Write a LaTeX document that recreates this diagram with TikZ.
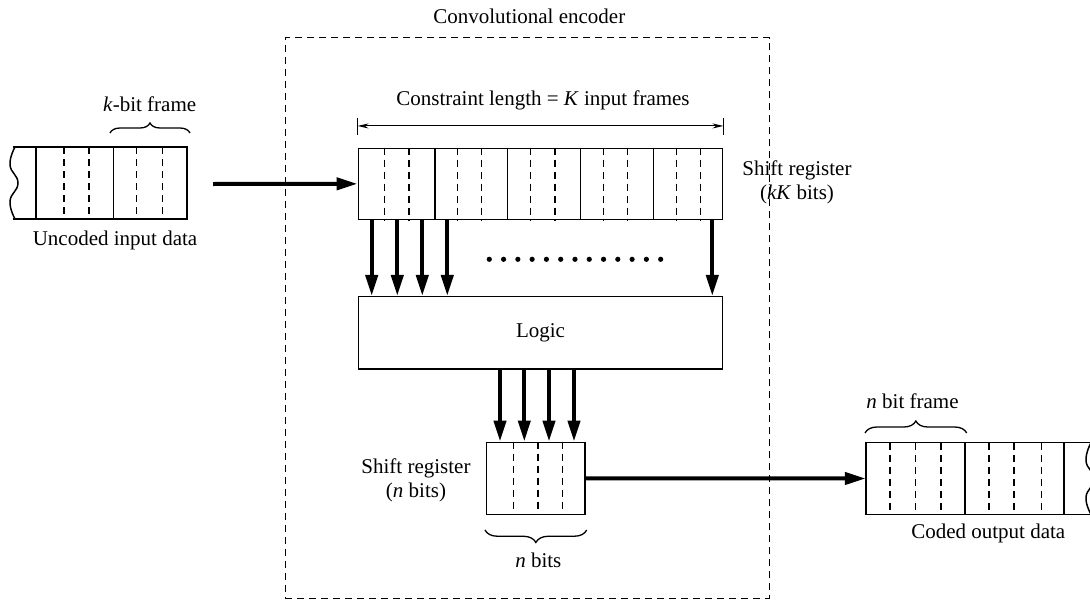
\documentclass[tikz,border=0pt]{standalone}
\usepackage{fontspec}
\setmainfont{Liberation Serif}
\usetikzlibrary{arrows.meta,decorations.pathreplacing,calc}
\begin{document}
\begin{tikzpicture}[x=1pt,y=-1pt,
  txt/.style={font=\fontsize{21}{24}\selectfont, inner sep=0pt, align=center},
  reg/.style={draw, line width=1.5pt, inner sep=0pt},
  ghost/.style={inner sep=0pt},
  div/.style={line width=1.5pt},
  ddiv/.style={line width=1.5pt, dash pattern=on 7pt off 5pt},
  bigarrow/.style={line width=4pt, -{Triangle[length=21pt,width=12pt]}},
  dim/.style={line width=1pt, {Stealth[length=11pt,width=5pt]}-{Stealth[length=11pt,width=5pt]}},
  brc/.style={decorate, decoration={brace, amplitude=#1}, line width=1.3pt},
  encbox/.style={draw, line width=1pt, dash pattern=on 7pt off 5pt, inner sep=0pt},
]
\useasboundingbox (0,0) rectangle (1090,605);

% encoder box
\node[encbox, minimum width=484.3pt, minimum height=560.3pt] (enc) at (527.15,317.85) {};
\node[txt] (enclbl) at (529.3,16.7) {Convolutional encoder};

% input register
\node[ghost, minimum width=174pt, minimum height=72pt] (inreg) at (100,183) {};
\draw[div] (13,147) -- (187,147) -- (187,219) -- (13,219);
\foreach \x in {36,113.3} \draw[div] (\x,147) -- (\x,219);
\foreach \x in {64,89,136.7,162.7} \draw[ddiv] (\x,147) -- (\x,219);
\draw[div] plot[smooth, tension=0.8] coordinates {(15,147) (10,165) (18,183) (10,201) (15,219)};
\draw[brc=10pt] (110,133) -- (190,133);
\node[txt] (klbl) at (149.7,104) {\textit{k}-bit frame};
\node[txt] (inlbl) at (115,240) {Uncoded input data};

% main shift register
\node[reg, minimum width=364.4pt, minimum height=71pt] (sr) at (540.5,183.8) {};
\foreach \x in {435,507.7,580.7,653.3} \draw[div] (\x,0 |- sr.north) -- (\x,0 |- sr.south);
\foreach \x in {384.3,409,457.7,481.7,530.7,555,603.3,627.3,676.7,700.7}
  \draw[ddiv] (\x,0 |- sr.north) -- (\x,0 |- sr.south);
\node[txt] (srlbl) at (797,182.5) {Shift register\\(\textit{kK} bits)};

% constraint length dimension
\coordinate (dimL) at ($(sr.north west)+(0,-21.6)$);
\coordinate (dimR) at ($(sr.north east)+(0,-21.6)$);
\draw[dim] (dimL) -- (dimR);
\draw[line width=1pt] ($(sr.north west)+(0,-30)$) -- ($(sr.north west)+(0,-13)$);
\draw[line width=1pt] ($(sr.north east)+(0,-30)$) -- ($(sr.north east)+(0,-13)$);
\node[txt] (cllbl) at (543,100) {Constraint length = \textit{K} input frames};

% input arrow
\coordinate (instart) at (213,184);
\draw[bigarrow] (instart) -- (sr.west);

% logic
\node[reg, minimum width=364.4pt, minimum height=72.3pt, txt] (logic) at (540.5,332.85) {Logic};
\foreach \x in {371.7,397.3,422.3,447.3,712.3}
  \draw[bigarrow] (\x,0 |- sr.south) -- (\x,0 |- logic.north);
\foreach \i in {0,...,12} \fill ({489.3+\i*14.28},259.3) circle (2.6pt);

% n-bit shift register
\node[reg, minimum width=98.3pt, minimum height=72pt] (nr) at (535.85,478.3) {};
\foreach \x in {513.3,538,562.3} \draw[ddiv] (\x,0 |- nr.north) -- (\x,0 |- nr.south);
\foreach \x in {500,524.3,549,574}
  \draw[bigarrow] (\x,0 |- logic.south) -- (\x,0 |- nr.north);
\node[txt] (nrlbl) at (416,480) {Shift register\\(\textit{n} bits)};
\draw[brc=12.5pt] (586.7,530) -- (485,530);
\node[txt] (nbits) at (538.3,560) {\textit{n} bits};

% output register
\node[ghost, minimum width=224pt, minimum height=71.6pt] (outreg) at (978,478.5) {};
\draw[div] (1090,442.7) -- (866,442.7) -- (866,514.3) -- (1090,514.3);
\foreach \x in {965,1064} \draw[div] (\x,442.7) -- (\x,514.3);
\foreach \x in {890,915.7,941,989,1014,1041.7} \draw[ddiv] (\x,442.7) -- (\x,514.3);
\draw[div] plot[smooth, tension=0.8] coordinates {(1091,442.7) (1086,461) (1094,479) (1086,497) (1091,514.3)};
\draw[brc=12pt] (865,433) -- (966.7,433);
\node[txt] (nflbl) at (912.5,401.7) {\textit{n} bit frame};
\node[txt] (outlbl) at (988.3,533) {Coded output data};

\draw[bigarrow] (nr.east) -- (outreg.west);
\end{tikzpicture}
\end{document}
